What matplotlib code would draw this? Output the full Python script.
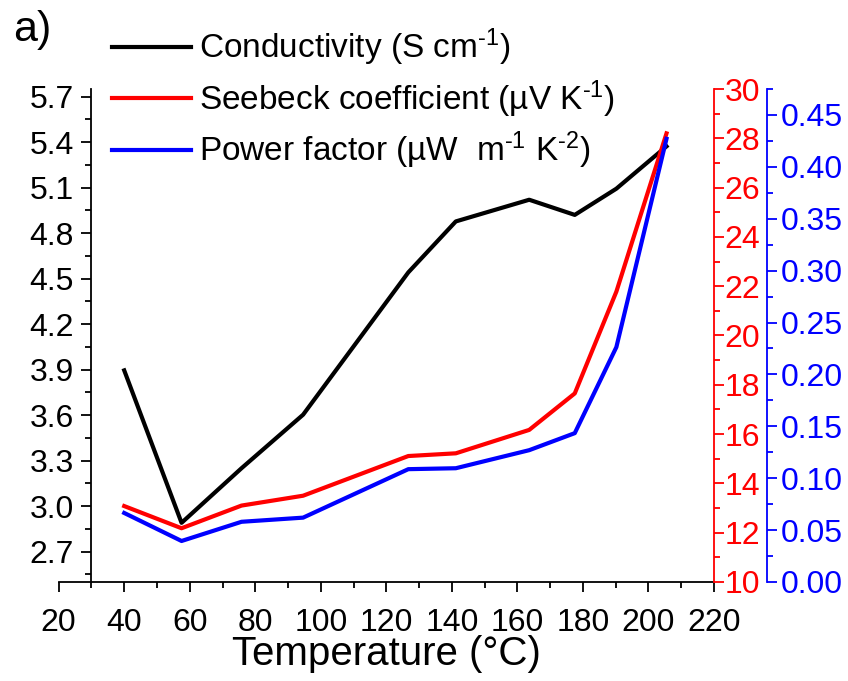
import matplotlib.pyplot as plt
from matplotlib.ticker import MultipleLocator

plt.rcParams['font.family'] = ['Liberation Sans', 'DejaVu Sans']
plt.rcParams['mathtext.fontset'] = 'custom'
plt.rcParams['mathtext.rm'] = 'Liberation Sans'
plt.rcParams['mathtext.it'] = 'Liberation Sans'

# Data
temperature = [40, 57.5, 75.8, 94.6, 126.7, 141.2, 163.6, 177.5, 190.2, 205.5]
conductivity = [3.895, 2.89, 3.25, 3.603, 4.541, 4.877, 5.02, 4.92, 5.093, 5.372]
seebeck = [13.08, 12.18, 13.1, 13.5, 15.11, 15.22, 16.17, 17.65, 21.78, 28.2]
power_factor = [0.0665, 0.0395, 0.058, 0.062, 0.1087, 0.1096, 0.127, 0.1434, 0.2263, 0.427]

RED = '#ff0000'
BLUE = '#0000ff'

fig = plt.figure(figsize=(8.48, 6.81), dpi=100)
ax = fig.add_axes([0.0692, 0.1454, 0.7728, 0.7239])
ax2 = ax.twinx()
ax3 = ax.twinx()

# conductivity on host axis, Seebeck and power factor on the two right axes
l1, = ax.plot(temperature, conductivity, color='k', lw=3,
              label=r'Conductivity (S cm$^{\text{-1}}$)')
l2, = ax2.plot(temperature, seebeck, color=RED, lw=3,
               label=r'Seebeck coefficient (µV K$^{\text{-1}}$)')
l3, = ax3.plot(temperature, power_factor, color=BLUE, lw=3,
               label=r'Power factor (µW  m$^{\text{-1}}$ K$^{\text{-2}}$)')

ax.set_xlim(20, 220)
ax.set_ylim(2.5, 5.75)
ax2.set_ylim(10, 30)
ax3.set_ylim(0, 0.475)

ax.spines['left'].set_position(('data', 30))
for s in ['top', 'right']:
    ax.spines[s].set_visible(False)
for a in [ax2, ax3]:
    for s in ['top', 'left', 'bottom']:
        a.spines[s].set_visible(False)
ax3.spines['right'].set_position(('axes', 1.0804))

ax.xaxis.set_major_locator(MultipleLocator(20))
ax.xaxis.set_minor_locator(MultipleLocator(10))
ax.yaxis.set_minor_locator(MultipleLocator(0.15))
ax.set_yticks([2.7, 3.0, 3.3, 3.6, 3.9, 4.2, 4.5, 4.8, 5.1, 5.4, 5.7])
ax.set_yticklabels(['2.7', '3.0', '3.3', '3.6', '3.9', '4.2', '4.5', '4.8', '5.1', '5.4', '5.7'])
ax2.yaxis.set_major_locator(MultipleLocator(2))
ax2.yaxis.set_minor_locator(MultipleLocator(1))
ax3.set_yticks([0, 0.05, 0.10, 0.15, 0.20, 0.25, 0.30, 0.35, 0.40, 0.45])
ax3.set_yticklabels(['0.00', '0.05', '0.10', '0.15', '0.20', '0.25', '0.30', '0.35', '0.40', '0.45'])
ax3.yaxis.set_minor_locator(MultipleLocator(0.025))

ax.tick_params(axis='both', which='both', direction='out', width=1.3, labelsize=23)
ax.tick_params(which='major', length=7.5)
ax.tick_params(which='minor', length=4.5)
ax.tick_params(axis='x', pad=11)
ax.tick_params(axis='y', pad=5)

for a, c, p in [(ax2, RED, 0.5), (ax3, BLUE, 3)]:
    a.spines['right'].set_color(c)
    a.spines['right'].set_linewidth(1.3)
    a.tick_params(axis='y', which='both', colors=c, direction='out', width=1.3,
                  labelsize=23, pad=p)
    a.tick_params(axis='y', which='major', length=7)
    a.tick_params(axis='y', which='minor', length=4)
for s in ['left', 'bottom']:
    ax.spines[s].set_linewidth(1.3)

ax.set_xlabel('Temperature (°C)', fontsize=29, labelpad=-2)

ax.legend(handles=[l1, l2, l3], loc='upper left', bbox_to_anchor=(0.101, 1.0),
          bbox_transform=fig.transFigure, frameon=False, fontsize=24,
          handlelength=2.35, handletextpad=0.25, labelspacing=0.3, borderpad=0.3)

fig.text(0.016, 0.985, 'a)', fontsize=31, ha='left', va='top')

fig.savefig('out.png', dpi=100)
